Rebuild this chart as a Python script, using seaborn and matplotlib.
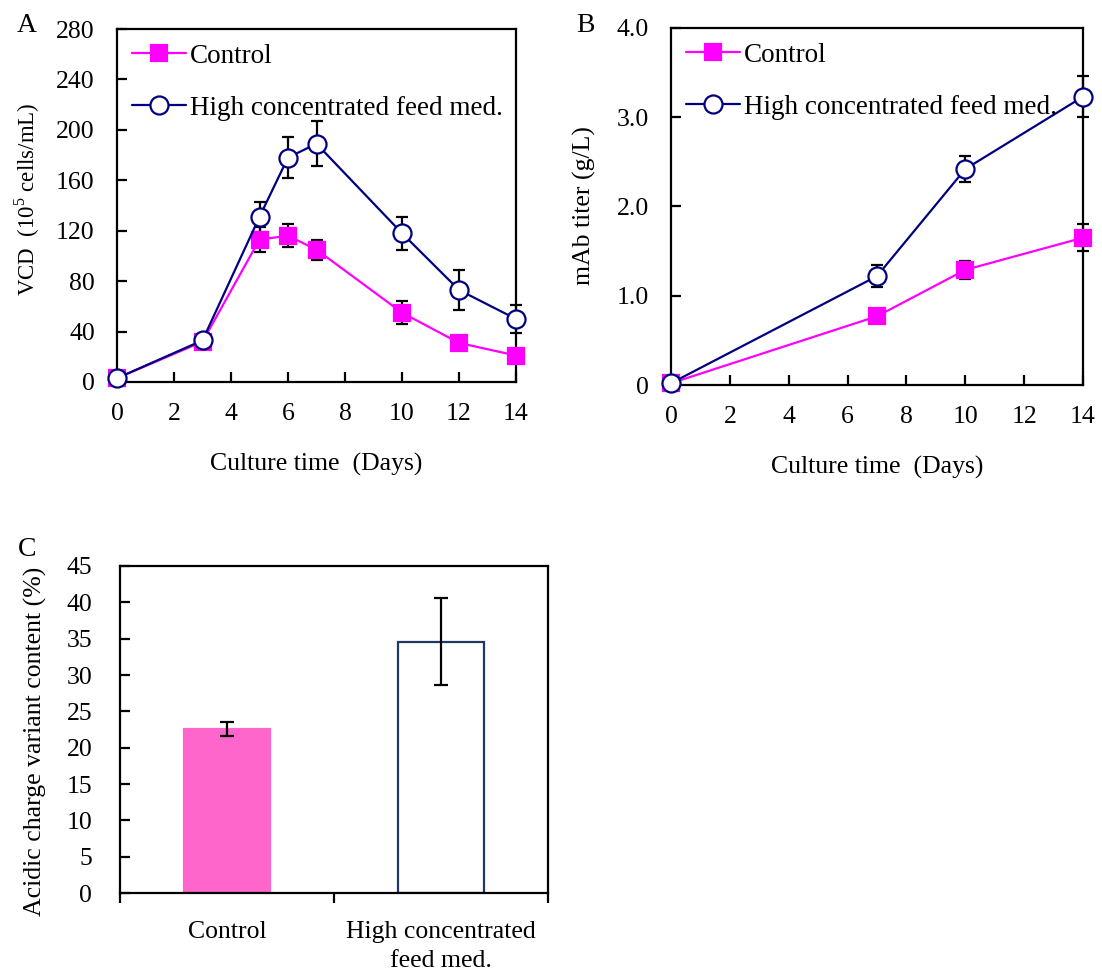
import matplotlib
matplotlib.use("Agg")
import matplotlib.pyplot as plt
import seaborn as sns
import numpy as np

# ---------------- data ----------------
series_labels = ["Control", "High concentrated feed med."]

# Panel A: viable cell density (10^5 cells/mL)
vcd_days = [0, 3, 5, 6, 7, 10, 12, 14]
vcd_control = [3, 32, 113, 116, 105, 55, 31, 21]
vcd_control_err = [1, 3, 10, 9, 8, 9, 3, 2]
vcd_high = [3, 33, 131, 178, 189, 118, 73, 50]
vcd_high_err = [1, 3, 12, 16, 18, 13, 16, 11]

# Panel B: mAb titer (g/L)
titer_days = [0, 7, 10, 14]
titer_control = [0.02, 0.77, 1.29, 1.65]
titer_control_err = [0.01, 0.04, 0.10, 0.15]
titer_high = [0.02, 1.22, 2.42, 3.23]
titer_high_err = [0.01, 0.12, 0.15, 0.23]

# Panel C: acidic charge variant content (%)
groups = ["Control", "High concentrated\nfeed med."]
acidic = [22.6, 34.6]
acidic_err = [1.0, 6.0]

# ---------------- style ----------------
sns.set_style("ticks")
plt.rcParams["font.family"] = ["Liberation Serif", "DejaVu Serif"]
plt.rcParams["mathtext.fontset"] = "custom"
plt.rcParams["mathtext.rm"] = "Liberation Serif"
plt.rcParams["axes.linewidth"] = 1.6
for k in ("text.color", "axes.labelcolor", "xtick.color", "ytick.color", "axes.edgecolor"):
    plt.rcParams[k] = "black"

MAGENTA = "#FF00FF"
NAVY = "#000080"
PINK = "#FF66CC"
BAR_EDGE = "#1F3864"
TICK_FS = 18.5
LAB_FS = 18.5
LEG_FS = 19.5

fig = plt.figure(figsize=(11.02, 9.71), dpi=100)
W, H = 1102, 971


def add_axes(l, t, r, b):
    return fig.add_axes([l / W, 1 - b / H, (r - l) / W, (b - t) / H])


axA = add_axes(117, 29, 516, 382)
axB = add_axes(671, 28, 1083, 385)
axC = add_axes(120, 566, 548, 893)


def draw_series(ax, x, y, err, color, marker, mfc, ms, label):
    ax.errorbar(x, y, yerr=err, fmt="none", ecolor="black", elinewidth=1.6,
                capsize=4, capthick=1.6, zorder=2, clip_on=False)
    sns.lineplot(x=x, y=y, ax=ax, color=color, marker=marker, markersize=ms,
                 markerfacecolor=mfc, markeredgecolor=color, markeredgewidth=1.6,
                 linewidth=1.6, label=label, zorder=3, clip_on=False)


for ax in (axA, axB):
    for s in ax.spines.values():
        s.set_visible(True)
        s.set_linewidth(1.6)
        s.set_color("black")

# Panel A
draw_series(axA, vcd_days, vcd_control, vcd_control_err, MAGENTA, "s", MAGENTA, 12, series_labels[0])
draw_series(axA, vcd_days, vcd_high, vcd_high_err, NAVY, "o", "white", 13, series_labels[1])
axA.set_xlim(0, 14)
axA.set_ylim(0, 280)
axA.set_xticks(range(0, 15, 2))
axA.set_yticks(range(0, 281, 40))
axA.set_xlabel("Culture time  (Days)", fontsize=LAB_FS, labelpad=20)
axA.set_ylabel(r"VCD  (10$^{\mathregular{5}}$ cells/mL)", fontsize=16.5)
axA.yaxis.set_label_coords(-0.188, 0.518)

# Panel B
draw_series(axB, titer_days, titer_control, titer_control_err, MAGENTA, "s", MAGENTA, 12, series_labels[0])
draw_series(axB, titer_days, titer_high, titer_high_err, NAVY, "o", "white", 13, series_labels[1])
axB.set_xlim(0, 14)
axB.set_ylim(0, 4.0)
axB.set_xticks(range(0, 15, 2))
axB.set_yticks([0, 1, 2, 3, 4])
axB.set_yticklabels(["0", "1.0", "2.0", "3.0", "4.0"])
axB.set_xlabel("Culture time  (Days)", fontsize=LAB_FS, labelpad=20)
axB.set_ylabel("mAb titer (g/L)", fontsize=LAB_FS)
axB.yaxis.set_label_coords(-0.182, 0.504)

for ax in (axA, axB):
    ax.tick_params(axis="both", direction="in", length=7, width=1.6,
                   labelsize=TICK_FS, top=False, right=False)
    ax.tick_params(axis="x", pad=15)
    ax.tick_params(axis="y", pad=16)
    ax.legend(loc="upper left", frameon=False, fontsize=LEG_FS, handlelength=2.0,
              handletextpad=0.15, labelspacing=1.0, borderaxespad=0.25,
              borderpad=0.3)

# Panel C
sns.barplot(x=groups, y=acidic, hue=groups, palette=[PINK, "white"], width=0.405,
            ax=axC, legend=False, linewidth=1.6, errorbar=None, saturation=1)
bars = [p for p in axC.patches]
bars[0].set_edgecolor(PINK)
bars[1].set_edgecolor(BAR_EDGE)
axC.errorbar([0, 1], acidic, yerr=acidic_err, fmt="none", ecolor="black",
             elinewidth=1.6, capsize=5, capthick=1.6, zorder=5)
axC.set_xlim(-0.5, 1.5)
axC.set_ylim(0, 45)
axC.set_yticks(range(0, 46, 5))
for s in axC.spines.values():
    s.set_visible(True)
    s.set_linewidth(1.6)
    s.set_color("black")
axC.set_xticks([0, 1])
axC.set_xticklabels(groups, fontsize=TICK_FS, multialignment="center", linespacing=1.4)
axC.set_xticks([-0.5, 0.5, 1.5], minor=True)
axC.tick_params(axis="x", which="major", length=0, pad=20)
axC.tick_params(axis="x", which="minor", direction="out", length=7, width=1.6)
axC.tick_params(axis="y", direction="in", length=7, width=1.6, labelsize=TICK_FS, pad=20)
axC.set_xlabel("")
axC.set_ylabel("Acidic charge variant content (%)", fontsize=LAB_FS)
axC.yaxis.set_label_coords(-0.170, 0.465)

# panel letters
fig.text(27 / W, 1 - 25 / H, "A", fontsize=20, va="center", ha="center")
fig.text(585 / W, 1 - 25 / H, "B", fontsize=20, va="center", ha="center")
fig.text(27 / W, 1 - 550 / H, "C", fontsize=20, va="center", ha="center")

fig.savefig("out.png", dpi=100)
